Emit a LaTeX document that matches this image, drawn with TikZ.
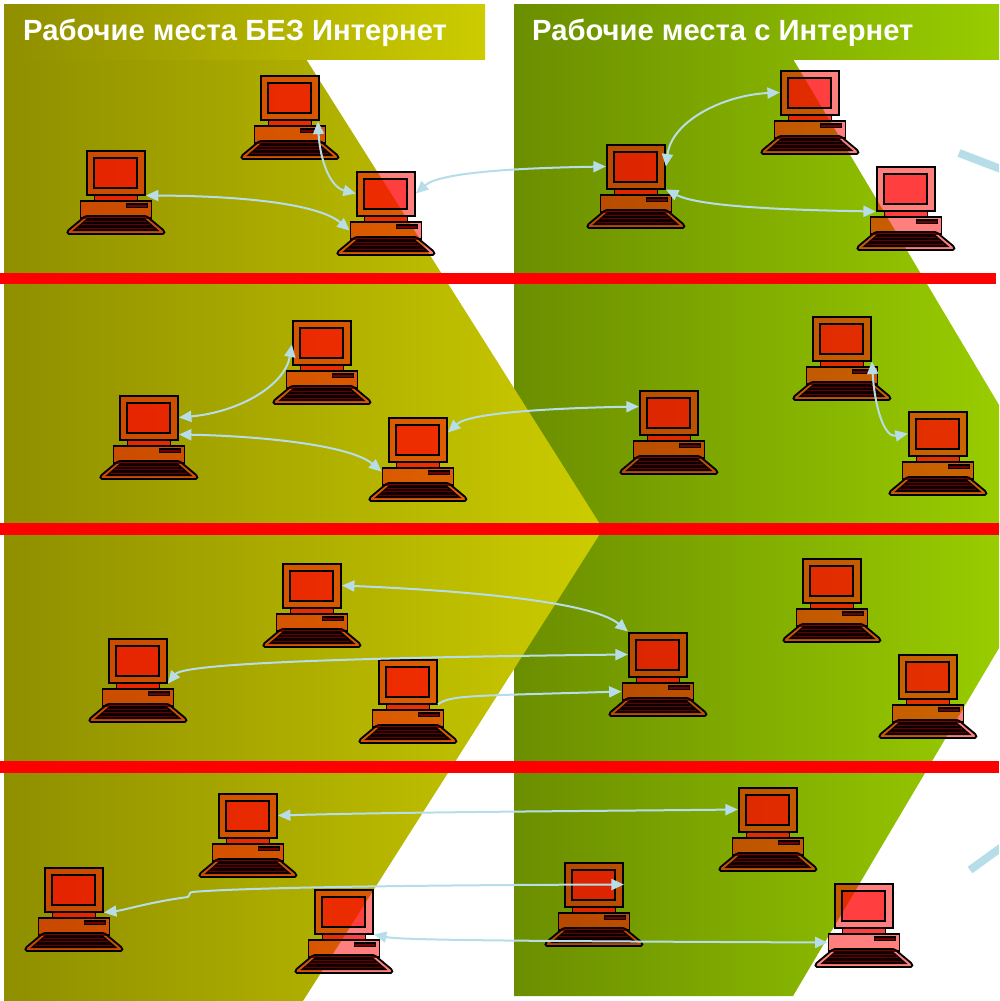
\documentclass[tikz,border=0pt]{standalone}
\usepackage{fontspec}
\setmainfont{Liberation Sans}
\usetikzlibrary{arrows.meta,calc}
\definecolor{oliveL}{HTML}{8F8F00}
\definecolor{oliveR}{HTML}{CCCC00}
\definecolor{greenL}{HTML}{6B8E00}
\definecolor{greenR}{HTML}{99CC00}
\definecolor{linkblue}{HTML}{B7DEE8}
\tikzset{
  monitor/.style={rectangle,draw=black,line width=2pt,fill=red,fill opacity=.5,minimum width=58pt,minimum height=44pt,inner sep=0pt,outer sep=1pt},
  basebox/.style={rectangle,draw=black,line width=1.6pt,fill=red,fill opacity=.5,minimum width=71pt,minimum height=17pt,inner sep=0pt,outer sep=.8pt},
  screenpart/.style={draw=black,line width=2pt,fill=red,fill opacity=.5},
  neckpart/.style={draw=black,line width=1.5pt,fill=red,fill opacity=.75},
  slotpart/.style={draw=black,line width=1.4pt,fill=red!45!black},
  kbdouter/.style={draw=black,line width=1.8pt,fill=red,fill opacity=.5,rounded corners=1.5pt},
  kbdinner/.style={fill=black!95!red},
  kbdrow/.style={draw=red!40!black,line width=.7pt},
  band/.style={fill=red},
  link/.style={draw=linkblue,line width=2pt,{Triangle[length=12.5pt,width=11pt]}-{Triangle[length=12.5pt,width=11pt]}},
  oneway/.style={draw=linkblue,line width=2pt,-{Triangle[length=12.5pt,width=11pt]}},
  fragment/.style={draw=linkblue,line width=8pt},
  title/.style={text=white,font=\bfseries\fontsize{29.2}{32}\selectfont,inner sep=0pt,anchor=base west}
}
\newcommand{\comp}[3]{%
  \begin{scope}[shift={(#2+.4,#3-.5)}]
    \path[neckpart] (8,45) rectangle (51,52);
    \node[basebox] (#1b) at (29.5,60) {};
    \path[slotpart] (40,54.5) rectangle (61,58);
    \node[monitor] (#1) at (29.5,23) {};
    \path[screenpart] (8,8) rectangle (51,38);
    \path[kbdouter] (-1,66.5) -- (60,66.5) -- (78,81.5) -- (78,84.5) -- (-19,84.5) -- (-19,81.5) -- cycle;
    \path[kbdinner] (1,68.5) -- (58,68.5) -- (73,81.5) -- (-14,81.5) -- cycle;
    \draw[kbdrow] (-1,71.5) -- (60,71.5) (-5,75) -- (64,75) (-9,78.5) -- (68,78.5);
  \end{scope}}
\begin{document}
\begin{tikzpicture}[x=1pt,y=-1pt]
\useasboundingbox (0,0) rectangle (999,1001);
\clip (0,0) rectangle (999,1001);
\fill[white] (0,0) rectangle (999,1001);
% backgrounds: the olive tip lies over the green field
\shade[left color=greenL,right color=greenR] (514,59) -- (793,59) -- (999,405) -- (999,648) -- (793,996) -- (514,996) -- cycle;
\shade[left color=oliveL,right color=oliveR] (4,59) -- (306,59) -- (603,529) -- (303,1001) -- (4,1001) -- cycle;
\shade[left color=oliveL,right color=oliveR] (4,4) rectangle (485,59);
\shade[left color=greenL,right color=greenR] (514,4) rectangle (999,59);
\node[title] (t1) at (23,40) {Рабочие места БЕЗ Интернет};
\node[title] (t2) at (532,40) {Рабочие места с Интернет};
% bands
\fill[band] (0,272.5) rectangle (996,284.3);
\fill[band] (0,523.3) rectangle (999,535);
\fill[band] (0,761) rectangle (999,772.5);
% stray fragments
\draw[fragment] (959,153) -- (1006,171);
\draw[fragment] (970,870) -- (1006,844);
% computers
\comp{c1}{86}{150}\comp{c2}{260}{75}\comp{c3}{356}{171}\comp{c4}{606}{144}\comp{c5}{780}{70}\comp{c6}{876}{166}
\comp{c7}{292}{320}\comp{c8}{119}{395}\comp{c9}{388}{417}\comp{c10}{639}{390}\comp{c11}{812}{316}\comp{c12}{908}{411}
\comp{c13}{282}{563}\comp{c14}{108}{638}\comp{c15}{378}{659}\comp{c16}{628}{632}\comp{c17}{802}{558}\comp{c18}{898}{654}
\comp{c19}{218}{793}\comp{c20}{44}{867}\comp{c21}{314}{889}\comp{c22}{564}{862}\comp{c23}{738}{787}\comp{c24}{834}{883}
% row 1
\draw[link] ($(c2.south east)+(-2,1)$) .. controls (320,160) and (330,187) .. (c3.west);
\draw[link] (c1.south east) .. controls (250,196) and (320,205) .. (c3b.west);
\draw[link] (c3.east) .. controls (440,172) and (520,168) .. (c4.west);
\draw[link] (c4.east) .. controls (672,120) and (725,95) .. (c5.west);
\draw[link] (c4.south east) .. controls (700,207) and (790,210) .. (c6.south west);
% row 2
\draw[link] (c8.east) .. controls (240,412) and (285,385) .. ($(c7.west)+(0,2)$);
\draw[link] ($(c8.south east)+(0,-6)$) .. controls (260,436) and (350,445) .. ($(c9b.west)+(0,-5)$);
\draw[link] ($(c9.east)+(0,-7)$) .. controls (470,412) and (560,408) .. ($(c10.west)+(0,-6)$);
\draw[link] (c11.south east) .. controls (875,410) and (885,438) .. (c12.west);
% row 3
\draw[link] (c13.east) .. controls (450,590) and (590,600) .. (c16.north west);
\draw[link] (c14.south east) .. controls (185,662) and (400,657) .. (c16.west);
\draw[oneway] (c15.south east) .. controls (450,695) and (470,696) .. (c16b.west);
% row 4
\draw[link] (c19.east) .. controls (400,812) and (600,811) .. (c23.west);
\draw[link] (c20.south east) .. controls (125,910) and (150,902) .. (188,897) .. controls (191,895) and (188,893) .. (192,892) .. controls (250,887) and (450,885) .. (c22.east);
\draw[link] (c21.south east) .. controls (400,940) and (500,941) .. (c24b.west);
\end{tikzpicture}
\end{document}
